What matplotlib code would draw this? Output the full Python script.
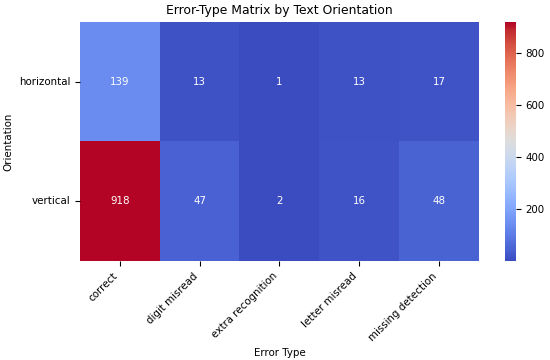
import numpy as np
import pandas as pd
import matplotlib
matplotlib.use("Agg")
import matplotlib.pyplot as plt
import seaborn as sns

orientations = ["horizontal", "vertical"]
error_types = ["correct", "digit misread", "extra recognition",
               "letter misread", "missing detection"]
horizontal_counts = [139, 13, 1, 13, 17]
vertical_counts = [918, 47, 2, 16, 48]

df = pd.DataFrame([horizontal_counts, vertical_counts],
                  index=orientations, columns=error_types)

fig = plt.figure(figsize=(5.5, 3.6), dpi=100)
ax = fig.add_axes([0.145, 0.275, 0.726, 0.664])
cax = fig.add_axes([0.918, 0.275, 0.02, 0.664])
sns.heatmap(df, annot=True, fmt="d", cmap="coolwarm", ax=ax, cbar_ax=cax,
            annot_kws={"fontsize": 7.4})
ax.set_title("Error-Type Matrix by Text Orientation", fontsize=8.9)
ax.set_xlabel("Error Type", fontsize=7.4)
ax.set_ylabel("Orientation", fontsize=7.4)
ax.tick_params(labelsize=7.4)
plt.setp(ax.get_xticklabels(), rotation=45, ha="right")
plt.setp(ax.get_yticklabels(), rotation=0)
cax.tick_params(labelsize=7.4)
plt.savefig("out.png", dpi=100)
